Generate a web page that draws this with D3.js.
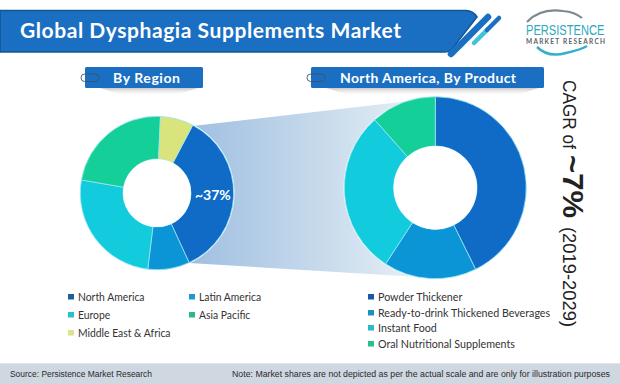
<!DOCTYPE html>
<html><head><meta charset="utf-8">
<script src="https://cdn.jsdelivr.net/npm/d3@7"></script>
<style>html,body{margin:0;padding:0;background:#fff}svg{display:block}text{font-family:Lato,"Noto Sans",sans-serif}</style>
</head><body><div id="chart"></div>
<script>
const title = "Global Dysphagia Supplements Market";
const regions = ["North America","Latin America","Europe","Asia Pacific","Middle East & Africa"];
const regionShares = [35.4,8.8,25.8,23,7];
const products = ["Powder Thickener","Ready-to-drink Thickened Beverages","Instant Food","Oral Nutritional Supplements"];
const productShares = [42.7,16.5,29.2,11.6];
const regionColors = ["#0f6bc6","#0b95d6","#12cbdc","#14cf97","#d9e47c"];
const productColors = ["#0f6bc6","#0b95d6","#12cbdc","#14cf97"];
const regionLabel = "~37%";

const svg = d3.select("#chart").append("svg").attr("width",620).attr("height",384);
const defs = svg.append("defs");
const g = defs.append("linearGradient").attr("id","beam").attr("x1","0").attr("x2","1").attr("y1","0").attr("y2","0");
g.append("stop").attr("offset","0").attr("stop-color","#9fbfe1");
g.append("stop").attr("offset","0.55").attr("stop-color","#c8dbec");
g.append("stop").attr("offset","1").attr("stop-color","#edf3f9");
const sh = defs.append("linearGradient").attr("id","shadow").attr("x1","0").attr("x2","0").attr("y1","0").attr("y2","1");
sh.append("stop").attr("offset","0").attr("stop-color","#9a9a9a").attr("stop-opacity",0.55);
sh.append("stop").attr("offset","1").attr("stop-color","#ffffff").attr("stop-opacity",0);

const squeeze=(t,k)=>{const w=t.node().getComputedTextLength();t.attr("textLength",w*k).attr("lengthAdjust","spacingAndGlyphs");return t;};

// header
svg.append("path").attr("d","M0,10.5H466Q473,10.5 477,17L477,17L452,49Q449,52 445,52H0Z")
  .attr("fill","#1b6fc2").attr("stroke","#14568f").attr("stroke-width",1.5);
svg.append("text").attr("x",20).attr("y",38).attr("font-size",21).attr("font-weight",700)
  .attr("fill","#fff").attr("textLength",381).attr("lengthAdjust","spacing").text(title);
const stripe=(x1,y1,x2,y2,c,w)=>svg.append("line").attr("x1",x1).attr("y1",y1).attr("x2",x2).attr("y2",y2)
  .attr("stroke",c).attr("stroke-width",w).attr("stroke-linecap","round");
stripe(451,54,488,17,"#1b6fc2",6.5);
stripe(474,43,487,30,"#3cc4da",4.5);
stripe(487,30,499,18,"#1b6fc2",4.5);

// logo
svg.append("path").attr("d","M527,22Q540,8 563,11Q575,12 582,18").attr("fill","none").attr("stroke","#7c8a90").attr("stroke-width",2.2);
svg.append("path").attr("d","M537,47Q548,58 566,53Q580,50 587,46").attr("fill","none").attr("stroke","#35aeca").attr("stroke-width",2.5);
svg.append("text").attr("transform","translate(526,35) scale(0.8,1.25)").attr("font-size",12).attr("fill","#2aa9bf")
  .attr("textLength",98).attr("lengthAdjust","spacingAndGlyphs").style("font-family","'Liberation Sans'").text("PERSISTENCE");
svg.append("text").attr("x",526).attr("y",44).attr("font-size",6.5).attr("fill","#5a5f66").attr("font-weight",700)
  .attr("textLength",79).attr("lengthAdjust","spacing").text("MARKET RESEARCH");

// pill headers
function pill(x,w,label,tx,tw){
  svg.append("path").attr("d",`M${x+15},88L${x+w-5},88L${x+w-30},96L${x+40},96Z`).attr("fill","url(#shadow)");
  svg.append("rect").attr("x",x).attr("y",67).attr("width",w).attr("height",21).attr("rx",1.5).attr("fill","#1b6fc2");
  svg.append("rect").attr("x",x-4).attr("y",74).attr("width",18).attr("height",7.5).attr("rx",3.7)
    .attr("fill","none").attr("stroke","#3d5566").attr("stroke-width",0.9);
  svg.append("text").attr("x",tx).attr("y",83).attr("font-size",14).attr("font-weight",700).attr("fill","#fff")
    .attr("textLength",tw).attr("lengthAdjust","spacing").text(label);
}
pill(85,118,"By Region",113,67);
pill(311,233,"North America, By Product",340,176);

// connector beam
const lc=[157,193], rc=[435.3,187.7], R1=76.7, r1=34, R2=91, r2=41.7;
svg.append("path").attr("d","M192.7,126L435,98L435,278L189,263Z").attr("fill","url(#beam)");

function donut(values,colors,names,c,R,r,startDeg){
  const color=d3.scaleOrdinal().domain(names).range(colors);
  const sa=startDeg*Math.PI/180;
  const pie=d3.pie().sort(null).startAngle(sa).endAngle(sa+2*Math.PI)(values);
  const arc=d3.arc().innerRadius(r).outerRadius(R);
  const gg=svg.append("g").attr("transform",`translate(${c[0]},${c[1]})`);
  gg.append("circle").attr("r",R+0.8).attr("fill","#fff");
  gg.selectAll("path").data(pie).join("path").attr("d",arc)
    .attr("fill",(d,i)=>color(names[i])).attr("stroke","#9be6f2").attr("stroke-width",0.8);
  gg.append("circle").attr("r",r).attr("fill","#fff");
}
donut(regionShares,regionColors,regions,lc,R1,r1,27.8);
donut(productShares,productColors,products,rc,R2,r2,0);
svg.append("text").attr("x",195).attr("y",200).attr("font-size",14).attr("font-weight",700).attr("fill","#fff").text(regionLabel);

// legends
function legend(items,colors,pts,k){
  const gl=svg.append("g");
  items.forEach((t,i)=>{
    const [x,y]=pts[i];
    gl.append("rect").attr("x",x).attr("y",y-3).attr("width",6).attr("height",5.5).attr("fill",colors[i]);
    squeeze(gl.append("text").attr("x",x+10).attr("y",y+4).attr("font-size",11.5).attr("fill","#333").text(t),k);
  });
}
legend(regions,["#1c5f9f","#1d9bd0","#28c3c6","#2eb78a","#d9e58c"],[[68,297],[189,297],[68,315],[189,315],[68,333]],0.9);
legend(products,["#1c55a8","#1d8fc0","#28bcc6","#25c08c"],[[368,297],[368,313],[368,328],[368,344]],0.93);

// CAGR
const side=(y,size,weight,len,t)=>svg.append("text").attr("transform",`translate(563,${y}) rotate(90)`)
  .attr("fill","#222").attr("font-size",size).attr("font-weight",weight)
  .attr("textLength",len).attr("lengthAdjust","spacingAndGlyphs")
  .style("font-family","'Liberation Sans',Arial,sans-serif").text(t);
side(80,19,400,69,"CAGR of");
side(155,29,700,63,"~7%");
side(227,18,400,100,"(2019-2029)");

// footer
svg.append("rect").attr("x",0).attr("y",364).attr("width",620).attr("height",20).attr("fill","#cfd8e1");
svg.append("rect").attr("x",0).attr("y",363).attr("width",620).attr("height",1).attr("fill","#dfe4e8");
const foot=(x,len,t)=>svg.append("text").attr("x",x).attr("y",377).attr("font-size",8.9).attr("fill","#2a2a2a")
  .attr("textLength",len).attr("lengthAdjust","spacingAndGlyphs").style("font-family","'Liberation Sans',sans-serif").text(t);
foot(10,142,"Source: Persistence Market Research");
foot(232,378,"Note: Market shares are not depicted as per the actual scale and are only for illustration purposes");
</script></body></html>
